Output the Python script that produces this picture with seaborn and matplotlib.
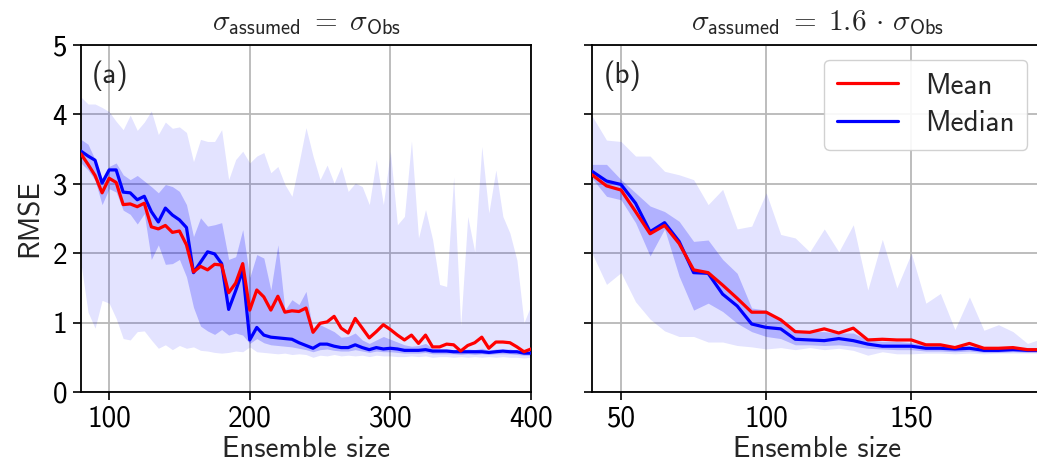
import numpy as np
import pandas as pd
import matplotlib
matplotlib.use("Agg")
import matplotlib.pyplot as plt
import seaborn as sns

# ---------------- data ----------------
# (a) sigma_assumed = sigma_Obs
sizes_a = list(range(80, 405, 5))
mean_a = [3.43, 3.28, 3.12, 2.87, 3.08, 3.02, 2.70, 2.71, 2.67, 2.72,
          2.38, 2.35, 2.40, 2.30, 2.32, 2.12, 1.73, 1.81, 1.76, 1.84,
          1.83, 1.43, 1.57, 1.85, 1.18, 1.47, 1.37, 1.18, 1.38, 1.15,
          1.17, 1.16, 1.21, 0.86, 0.99, 1.01, 1.09, 0.92, 0.85, 1.06,
          0.92, 0.78, 0.87, 0.97, 0.90, 0.82, 0.75, 0.82, 0.70, 0.82,
          0.65, 0.65, 0.69, 0.68, 0.59, 0.67, 0.71, 0.79, 0.63, 0.72,
          0.72, 0.71, 0.65, 0.58, 0.62]
median_a = [3.47, 3.40, 3.34, 3.01, 3.20, 3.20, 2.88, 2.87, 2.77, 2.82,
            2.60, 2.45, 2.65, 2.55, 2.48, 2.37, 1.72, 1.87, 2.02, 1.99,
            1.85, 1.19, 1.46, 1.75, 0.75, 0.93, 0.82, 0.79, 0.78, 0.77,
            0.76, 0.71, 0.67, 0.63, 0.69, 0.69, 0.66, 0.64, 0.64, 0.68,
            0.64, 0.61, 0.64, 0.62, 0.63, 0.62, 0.60, 0.60, 0.60, 0.61,
            0.59, 0.59, 0.59, 0.58, 0.58, 0.58, 0.58, 0.58, 0.57, 0.58,
            0.59, 0.58, 0.58, 0.56, 0.56]
q25_a = [3.30, 3.20, 3.05, 2.70, 2.93, 2.88, 2.62, 2.56, 2.42, 2.57,
         1.91, 2.12, 1.84, 1.85, 1.91, 1.66, 1.22, 0.95, 0.88, 0.83,
         0.90, 0.82, 0.85, 0.82, 0.70, 0.77, 0.71, 0.68, 0.67, 0.66,
         0.65, 0.63, 0.61, 0.58, 0.61, 0.62, 0.60, 0.59, 0.59, 0.61,
         0.59, 0.57, 0.59, 0.58, 0.58, 0.57, 0.56, 0.56, 0.56, 0.57,
         0.55, 0.55, 0.55, 0.55, 0.54, 0.55, 0.54, 0.55, 0.54, 0.55,
         0.55, 0.55, 0.54, 0.53, 0.53]
q75_a = [3.64, 3.57, 3.35, 3.07, 3.25, 3.30, 3.13, 3.06, 3.12, 3.04,
         2.96, 2.87, 2.99, 2.96, 2.89, 2.70, 2.24, 2.51, 2.39, 2.41,
         2.44, 1.91, 1.95, 2.34, 1.65, 1.98, 1.93, 1.47, 2.12, 1.18,
         1.33, 1.26, 1.45, 0.88, 0.97, 0.92, 0.87, 0.79, 0.80, 0.85,
         0.75, 0.70, 0.75, 0.80, 0.76, 0.72, 0.68, 0.66, 0.67, 0.70,
         0.63, 0.62, 0.62, 0.61, 0.60, 0.62, 0.61, 0.63, 0.60, 0.62,
         0.61, 0.62, 0.60, 0.58, 0.58]
lo_a = [1.85, 1.15, 0.92, 1.32, 1.28, 1.06, 0.77, 0.75, 0.87, 0.88,
        0.75, 0.63, 0.68, 0.61, 0.67, 0.63, 0.65, 0.60, 0.59, 0.57,
        0.56, 0.57, 0.59, 0.58, 0.65, 0.58, 0.57, 0.56, 0.55, 0.56,
        0.54, 0.55, 0.54, 0.50, 0.53, 0.52, 0.54, 0.52, 0.53, 0.52,
        0.53, 0.51, 0.53, 0.52, 0.52, 0.51, 0.51, 0.52, 0.51, 0.52,
        0.50, 0.51, 0.51, 0.50, 0.51, 0.50, 0.51, 0.50, 0.51, 0.50,
        0.51, 0.50, 0.50, 0.49, 0.50]
hi_a = [4.25, 4.15, 4.15, 4.10, 4.04, 3.90, 3.78, 3.99, 3.77, 3.89,
        4.05, 3.71, 3.89, 3.80, 3.82, 3.74, 3.32, 3.64, 3.61, 3.61,
        3.78, 3.06, 3.35, 3.47, 3.30, 3.40, 3.45, 3.16, 3.25, 2.99,
        2.82, 3.30, 3.81, 3.40, 3.06, 3.27, 3.01, 3.25, 2.89, 3.01,
        2.96, 2.70, 3.35, 2.70, 3.47, 2.41, 2.53, 3.62, 2.22, 2.63,
        2.20, 1.55, 1.52, 3.10, 0.95, 2.53, 2.02, 3.54, 2.58, 3.20,
        2.53, 2.29, 1.90, 1.00, 1.25]

# (b) sigma_assumed = 1.6 * sigma_Obs
sizes_b = list(range(40, 200, 5))
mean_b = [3.13, 2.97, 2.91, 2.60, 2.28, 2.40, 2.14, 1.76, 1.72, 1.54,
          1.35, 1.15, 1.15, 1.04, 0.87, 0.86, 0.91, 0.85, 0.92, 0.75,
          0.76, 0.75, 0.75, 0.68, 0.68, 0.64, 0.70, 0.63, 0.63, 0.64,
          0.61, 0.61]
median_b = [3.18, 3.04, 2.99, 2.72, 2.31, 2.44, 2.17, 1.72, 1.71, 1.41,
            1.24, 0.98, 0.93, 0.91, 0.76, 0.75, 0.74, 0.77, 0.74, 0.69,
            0.66, 0.66, 0.66, 0.63, 0.63, 0.62, 0.63, 0.60, 0.60, 0.61,
            0.60, 0.60]
q25_b = [3.08, 2.82, 2.77, 2.44, 1.96, 2.35, 1.67, 1.18, 1.28, 1.16,
         0.99, 0.87, 0.80, 0.77, 0.68, 0.68, 0.67, 0.68, 0.66, 0.63,
         0.62, 0.61, 0.61, 0.59, 0.59, 0.58, 0.59, 0.57, 0.57, 0.58,
         0.57, 0.57]
q75_b = [3.28, 3.28, 3.06, 2.87, 2.68, 2.60, 2.46, 2.17, 2.19, 1.91,
         1.71, 1.21, 1.18, 1.04, 0.89, 0.87, 0.87, 0.85, 0.85, 0.75,
         0.73, 0.73, 0.71, 0.68, 0.68, 0.66, 0.67, 0.64, 0.64, 0.65,
         0.63, 0.63]
lo_b = [2.00, 1.55, 1.72, 1.30, 1.05, 0.88, 0.80, 0.80, 0.72, 0.72,
        0.67, 0.65, 0.62, 0.64, 0.61, 0.64, 0.61, 0.63, 0.60, 0.53,
        0.58, 0.55, 0.55, 0.56, 0.56, 0.55, 0.56, 0.55, 0.56, 0.56,
        0.56, 0.56]
hi_b = [3.98, 3.63, 3.61, 3.40, 3.40, 3.18, 3.13, 3.06, 2.70, 2.92,
        2.35, 2.39, 2.87, 2.27, 2.22, 2.02, 2.35, 2.02, 2.41, 1.47,
        2.20, 1.50, 2.00, 1.28, 1.42, 0.90, 1.37, 0.89, 0.97, 0.87,
        0.70, 0.77]

panel_titles = [r"$\sigma_{\mathsf{assumed}} \;=\; \sigma_{\mathsf{Obs}}$",
                r"$\sigma_{\mathsf{assumed}} \;=\; 1.6 \,\cdot\, \sigma_{\mathsf{Obs}}$"]
panel_tags = ["(a)", "(b)"]
xticks_a = [100, 200, 300, 400]
xticks_b = [50, 100, 150]
yticks = [0, 1, 2, 3, 4, 5]

# ---------------- style ----------------
sns.set_theme(style="whitegrid")
plt.rcParams.update({
    "font.family": ["cmss10", "DejaVu Sans"],
    "mathtext.fontset": "cm",
    "axes.unicode_minus": False,
    "axes.edgecolor": "black",
    "axes.linewidth": 1.3,
    "grid.color": "#b8b8b8",
    "grid.linewidth": 1.3,
    "xtick.bottom": True,
    "ytick.left": True,
    "xtick.color": "black",
    "ytick.color": "black",
    "xtick.major.size": 6,
    "ytick.major.size": 6,
    "xtick.major.width": 1.2,
    "ytick.major.width": 1.2,
})

FS = 21
FS_TITLE = 21
fig = plt.figure(figsize=(10.37, 4.76), dpi=100)
W, H = 1037, 476
ax1 = fig.add_axes([81 / W, 84 / H, 450 / W, 347 / H])
ax2 = fig.add_axes([592 / W, 84 / H, 450 / W, 347 / H], sharey=ax1)


def draw_panel(ax, sizes, mean, median, q25, q75, lo, hi):
    ax.fill_between(sizes, lo, hi, color="blue", alpha=0.11, lw=0, zorder=1)
    ax.fill_between(sizes, q25, q75, color="blue", alpha=0.22, lw=0, zorder=1)
    df = pd.DataFrame({"size": sizes, "Mean": mean, "Median": median})
    sns.lineplot(data=df, x="size", y="Median", color="blue", lw=2.3,
                 label="Median", ax=ax, zorder=3)
    sns.lineplot(data=df, x="size", y="Mean", color="red", lw=2.3,
                 label="Mean", ax=ax, zorder=4)
    ax.set_xlabel("Ensemble size", fontsize=FS, labelpad=2)
    ax.set_ylabel("")
    ax.grid(True, zorder=0)
    ax.set_axisbelow(True)
    for s in ax.spines.values():
        s.set_color("black")
        s.set_linewidth(1.3)


draw_panel(ax1, sizes_a, mean_a, median_a, q25_a, q75_a, lo_a, hi_a)
draw_panel(ax2, sizes_b, mean_b, median_b, q25_b, q75_b, lo_b, hi_b)

ax1.set_xlim(80, 400)
ax2.set_xlim(40, 195)
ax1.set_ylim(0, 5)
ax1.set_xticks(xticks_a)
ax2.set_xticks(xticks_b)
ax1.set_yticks(yticks)
ax1.set_ylabel("RMSE", fontsize=FS, labelpad=6)
ax2.tick_params(labelleft=False)
for ax, title, tag in zip([ax1, ax2], panel_titles, panel_tags):
    ax.tick_params(labelsize=FS, direction="out", pad=4)
    ax.set_title(title, fontsize=FS_TITLE, pad=11)
    ax.text(0.025, 0.955, tag, transform=ax.transAxes, fontsize=FS,
            ha="left", va="top")

ax1.get_legend().remove()
handles, labels = ax2.get_legend_handles_labels()
order = [labels.index("Mean"), labels.index("Median")]
ax2.legend([handles[i] for i in order], [labels[i] for i in order],
           loc="upper right", borderaxespad=0.5, fontsize=FS,
           handlelength=2.1, handletextpad=0.9, borderpad=0.45,
           labelspacing=0.35, frameon=True, fancybox=True,
           edgecolor="#cccccc", framealpha=0.9)

fig.savefig("out.png", dpi=100)
